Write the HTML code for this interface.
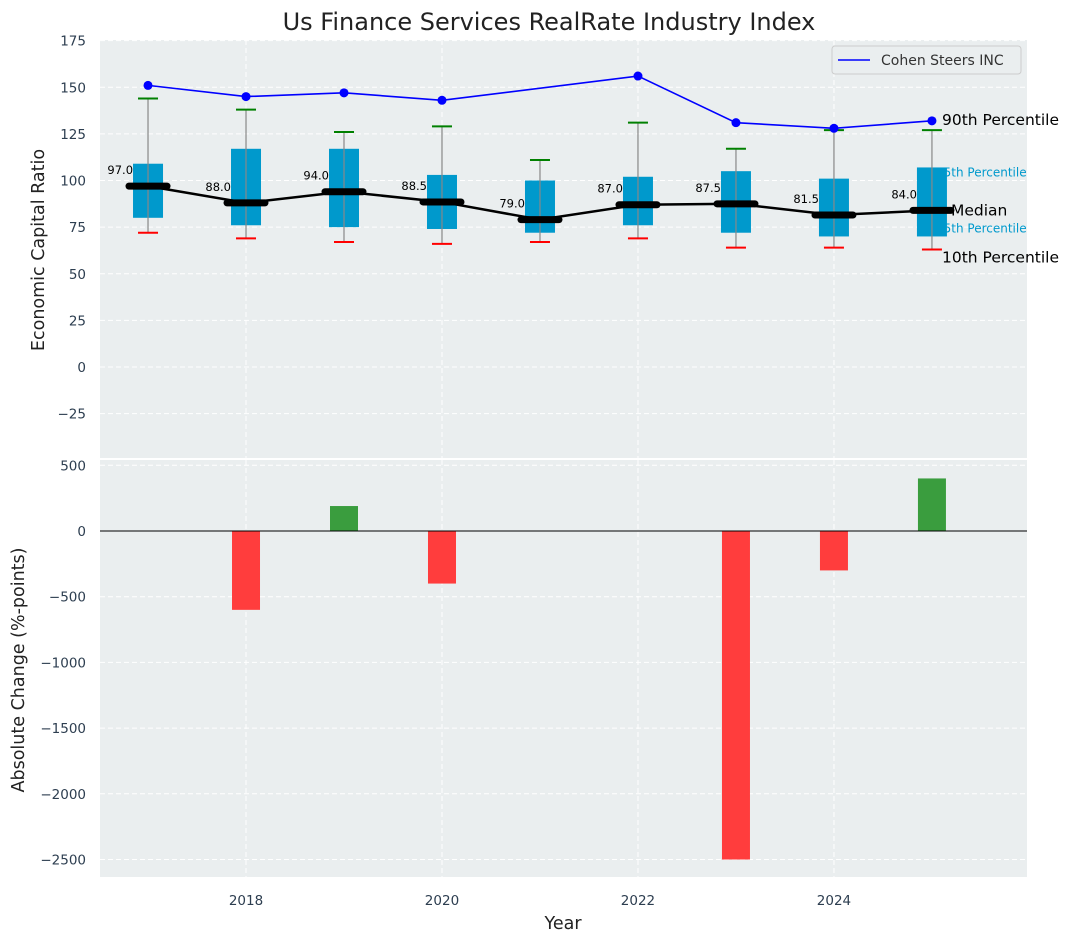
<!DOCTYPE html>
<html><head><meta charset="utf-8"><style>
body{margin:0;background:#fff}
svg{display:block;font-family:"DejaVu Sans","Liberation Sans",sans-serif}
</style></head><body>
<svg id="c" width="1077" height="942"></svg>
<script>
const years=[2017,2018,2019,2020,2021,2022,2023,2024,2025];
const p10=[72,69,67,66,67,69,64,64,63];
const q1=[80,76,75,74,72,76,72,70,70];
const med=[97,88,94,88.5,79,87,87.5,81.5,84];
const q3=[109,117,117,103,100,102,105,101,107];
const p90=[144,138,126,129,111,131,117,127,127];
const cohen=[151,145,147,143,null,156,131,128,132];
const change=[0,-600,190,-400,0,0,-2500,-300,400];
const yTicksTop=[175,150,125,100,75,50,25,0,-25];
const yTicksBot=[500,0,-500,-1000,-1500,-2000,-2500];
const xTicks=[2018,2020,2022,2024];

const NS="http://www.w3.org/2000/svg";
const svg=document.getElementById('c');
function el(t,a,p){const e=document.createElementNS(NS,t);for(const k in a)e.setAttribute(k,a[k]);(p||svg).appendChild(e);return e;}
const L=100,R=1027;
const x=v=>L+(v-2016.51)*(R-L)/(2025.97-2016.51);
const T0=40,T1=458;const yT=v=>367-v*1.865;
const B0=460,B1=877;const yB=v=>531-v*65.7/500;
const lab='#2d3e50';
let bg=el('rect',{x:L,y:T0,width:R-L,height:T1-T0,fill:'#eaeeef'});

let bg2=el('rect',{x:L,y:B0,width:R-L,height:B1-B0,fill:'#eaeeef'});

xTicks.forEach(t=>{
 el('line',{x1:x(t),x2:x(t),y1:T0,y2:T1,stroke:'#fff','stroke-dasharray':'5,3','stroke-width':1});
 el('line',{x1:x(t),x2:x(t),y1:B0,y2:B1,stroke:'#fff','stroke-dasharray':'5,3','stroke-width':1});
 const tx=el('text',{x:x(t),y:905,'text-anchor':'middle','font-size':13.5,fill:lab});tx.textContent=t;
 
});
yTicksTop.forEach(t=>{
 el('line',{x1:L,x2:R,y1:yT(t),y2:yT(t),stroke:'#fff','stroke-dasharray':'5,3'});
 const tx=el('text',{x:86,y:yT(t)+5,'text-anchor':'end','font-size':13.5,fill:lab});tx.textContent=t<0?'−'+(-t):t;
 
});
yTicksBot.forEach(t=>{
 el('line',{x1:L,x2:R,y1:yB(t),y2:yB(t),stroke:'#fff','stroke-dasharray':'5,3'});
 const tx=el('text',{x:86,y:yB(t)+5,'text-anchor':'end','font-size':13.5,fill:lab});tx.textContent=t<0?'−'+(-t):t;
 
});
// cyan labels (partially hidden by last box)
[['75th Percentile',yT(q3[8])+9],['25th Percentile',yT(q1[8])-4]].forEach(a=>{
 const t=el('text',{x:936,y:a[1],'font-size':12,fill:'#0099cc'});t.textContent=a[0];
 
});
years.forEach((yr,i)=>{
 const cx=x(yr),w=30;
 const b=el('rect',{x:cx-w/2,y:yT(q3[i]),width:w,height:yT(q1[i])-yT(q3[i]),fill:'#0099cc'});
 
 el('line',{x1:cx,x2:cx,y1:yT(p10[i]),y2:yT(p90[i]),stroke:'#888','stroke-width':1.2});
 el('line',{x1:cx-10,x2:cx+10,y1:yT(p90[i]),y2:yT(p90[i]),stroke:'green','stroke-width':2});
 el('line',{x1:cx-10,x2:cx+10,y1:yT(p10[i]),y2:yT(p10[i]),stroke:'red','stroke-width':2});
});
el('polyline',{points:years.map((y,i)=>x(y)+','+yT(med[i])).join(' '),fill:'none',stroke:'#000','stroke-width':2.5});
years.forEach((yr,i)=>{
 const cx=x(yr);
 const m=el('line',{x1:cx-19,x2:cx+19,y1:yT(med[i]),y2:yT(med[i]),stroke:'#000','stroke-width':7,'stroke-linecap':'round'});
 
 const t=el('text',{x:cx-15,y:yT(med[i])-12,'text-anchor':'end','font-size':11.5,fill:'#000'});t.textContent=med[i].toFixed(1);
 
});
let pts=[];years.forEach((y,i)=>{if(cohen[i]!=null)pts.push(x(y)+','+yT(cohen[i]));});
const cl=el('polyline',{points:pts.join(' '),fill:'none',stroke:'blue','stroke-width':1.6});

years.forEach((y,i)=>{if(cohen[i]!=null){const c=el('circle',{cx:x(y),cy:yT(cohen[i]),r:4.5,fill:'blue'});
 }});
el('rect',{x:R,y:0,width:50,height:942,fill:'#fff'});
[['90th Percentile',942,yT(p90[8])-5],['Median',951,yT(med[8])+5],['10th Percentile',942,yT(p10[8])+13]].forEach(a=>{
 const t=el('text',{x:a[1],y:a[2],'font-size':15.5,fill:'#000'});t.textContent=a[0];
 
});
const lg=el('g',{});
el('rect',{x:832,y:46,width:189,height:28,rx:3,fill:'#eaeeef',stroke:'#ccc'},lg);
el('line',{x1:838,x2:870,y1:60,y2:60,stroke:'blue','stroke-width':1.6},lg);
{const t=el('text',{x:881,y:65,'font-size':14,fill:'#333'},lg);t.textContent='Cohen Steers INC';}
years.forEach((yr,i)=>{
 const v=change[i];if(v===0)return;
 const y0=yB(Math.max(v,0)),h=Math.abs(yB(v)-yB(0));
 const r=el('rect',{x:x(yr)-14,y:y0,width:28,height:h,fill:v>0?'#3a9d3e':'#ff3d3d'});
 
});
el('line',{x1:L,x2:R,y1:yB(0),y2:yB(0),stroke:'#000','stroke-width':1});
let t=el('text',{x:549,y:30,'text-anchor':'middle','font-size':24,fill:'#222'});t.textContent='Us Finance Services RealRate Industry Index';

t=el('text',{x:563,y:929,'text-anchor':'middle','font-size':17.5,fill:'#222'});t.textContent='Year';

t=el('text',{x:0,y:0,'text-anchor':'middle','font-size':17.5,fill:'#222',transform:'translate(44,250) rotate(-90)'});t.textContent='Economic Capital Ratio';

t=el('text',{x:0,y:0,'text-anchor':'middle','font-size':17.5,fill:'#222',transform:'translate(24,670) rotate(-90)'});t.textContent='Absolute Change (%-points)';

</script>
</body></html>
